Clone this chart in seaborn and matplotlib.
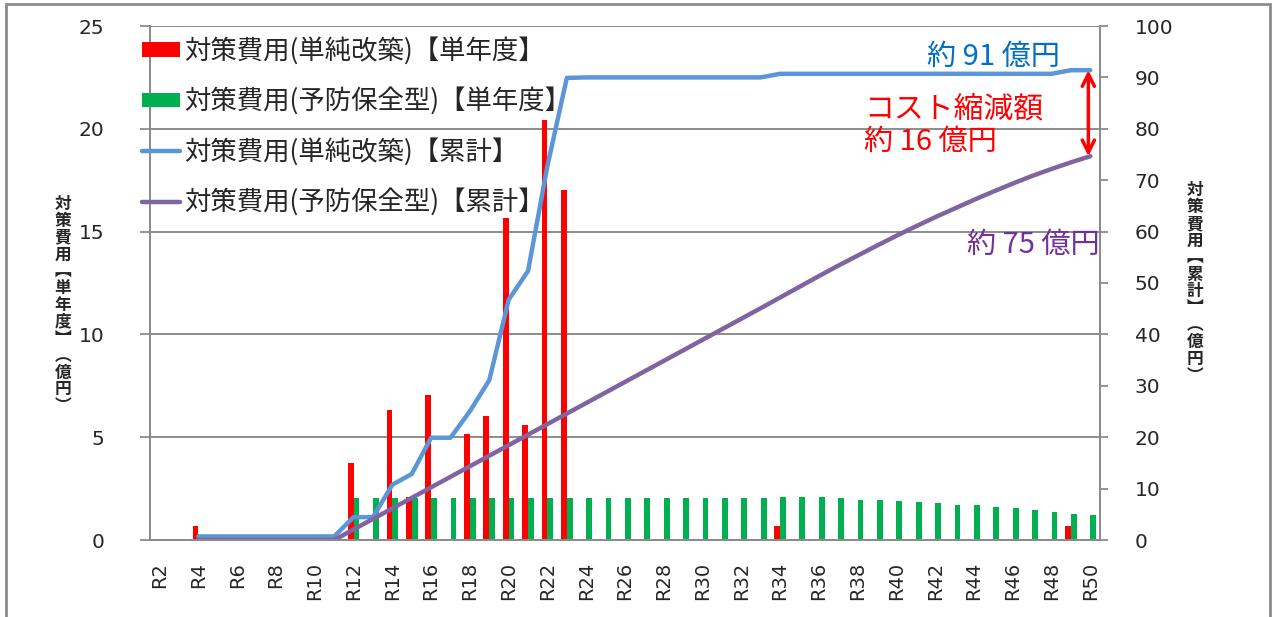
import numpy as np
import pandas as pd
import matplotlib
matplotlib.use('Agg')
import matplotlib.pyplot as plt
from matplotlib.patches import Rectangle
import seaborn as sns

sns.set_style('white')
plt.rcParams['font.family'] = ['DejaVu Sans', 'Noto Sans CJK JP']
JP = ['Noto Sans CJK JP', 'DejaVu Sans']

# data (億円)
years = ['R%d' % n for n in range(2, 51)]

# single-year cost, simple renewal (red bars)
red_single = [0, 0, 0.7, 0, 0, 0, 0, 0, 0, 0,
              3.75, 0, 6.3, 2.1, 7.05, 0, 5.15, 6.05, 15.65, 5.6,
              20.45, 17.0, 0, 0, 0, 0, 0, 0, 0, 0,
              0, 0, 0.7, 0, 0, 0, 0, 0, 0, 0,
              0, 0, 0, 0, 0, 0, 0, 0.7, 0]

# single-year cost, preventive maintenance (green bars)
green_single = [0, 0, 0, 0, 0, 0, 0, 0, 0, 0,
                2.05, 2.05, 2.05, 2.05, 2.05, 2.05, 2.05, 2.05, 2.05, 2.05,
                2.05, 2.05, 2.05, 2.05, 2.05, 2.05, 2.05, 2.05, 2.05, 2.05,
                2.05, 2.05, 2.08, 2.08, 2.08, 2.04, 1.95, 1.95, 1.91, 1.83,
                1.78, 1.69, 1.69, 1.61, 1.56, 1.48, 1.36, 1.28, 1.20]

# cumulative, simple renewal (blue line)
blue_cum = [np.nan, np.nan, 0.7, 0.7, 0.7, 0.7, 0.7, 0.7, 0.7, 0.7,
            4.45, 4.45, 10.75, 12.85, 19.9, 19.9, 25.05, 31.1, 46.75, 52.35,
            72.8, 89.9, 90.0, 90.0, 90.0, 90.0, 90.0, 90.0, 90.0, 90.0,
            90.0, 90.0, 90.7, 90.7, 90.7, 90.7, 90.7, 90.7, 90.7, 90.7,
            90.7, 90.7, 90.7, 90.7, 90.7, 90.7, 90.7, 91.4, 91.4]

# cumulative, preventive maintenance (purple line)
purple_cum = [np.nan, np.nan, 0, 0, 0, 0, 0, 0, 0, 0,
              2.05, 4.10, 6.15, 8.20, 10.25, 12.30, 14.35, 16.40, 18.45, 20.50,
              22.55, 24.60, 26.65, 28.70, 30.75, 32.80, 34.85, 36.90, 38.95, 41.00,
              43.05, 45.10, 47.18, 49.26, 51.34, 53.38, 55.33, 57.28, 59.19, 61.02,
              62.80, 64.49, 66.18, 67.79, 69.35, 70.83, 72.19, 73.47, 74.67]

lab_red = '対策費用(単純改築)【単年度】'
lab_green = '対策費用(予防保全型)【単年度】'
lab_blue = '対策費用(単純改築)【累計】'
lab_purple = '対策費用(予防保全型)【累計】'

RED = '#FF0000'
GREEN = '#00B050'
BLUE = '#5A96D8'
PURPLE = '#8064A2'
GRAY = '#8C8C8C'

bars = pd.DataFrame({
    'year': years * 2,
    'kind': [lab_red] * len(years) + [lab_green] * len(years),
    'value': red_single + green_single,
})
pos = np.arange(len(years))
lines = pd.DataFrame({'pos': pos, 'blue': blue_cum, 'purple': purple_cum})

fig = plt.figure(figsize=(12.75, 6.17), dpi=100)
ax = fig.add_axes([150 / 1275, 77 / 617, 950 / 1275, 514 / 617])

sns.barplot(data=bars, x='year', y='value', hue='kind',
            hue_order=[lab_red, lab_green], palette=[RED, GREEN],
            width=0.6, dodge=True, legend=False, saturation=1,
            linewidth=0, ax=ax)

ax2 = ax.twinx()
sns.lineplot(data=lines, x='pos', y='blue', color=BLUE, lw=3.2, ax=ax2)
sns.lineplot(data=lines, x='pos', y='purple', color=PURPLE, lw=3.2, ax=ax2)

ax.set_xlim(-0.5, len(years) - 0.5)
ax.set_ylim(0, 25)
ax2.set_ylim(0, 100)
ax.set_yticks(range(0, 26, 5))
ax2.set_yticks(range(0, 101, 10))
ax.set_xticks(pos[::2])
ax.set_xticklabels(years[::2], rotation=90, fontsize=14)
ax.set_xticks(np.arange(-0.5, len(years), 1), minor=True)
ax.tick_params(axis='x', which='major', length=0, pad=16)
ax.tick_params(axis='x', which='minor', length=8, width=1.3, color=GRAY)
ax.tick_params(axis='y', length=7, width=1.3, color=GRAY, pad=26, labelsize=14.5)
ax2.tick_params(axis='y', length=6, width=1.3, color=GRAY, pad=19, labelsize=14.5)
ax.set_xlabel('')
ax.set_ylabel('')
ax2.set_xlabel('')
ax2.set_ylabel('')
ax.yaxis.grid(True, color=GRAY, lw=1.4)
ax.set_axisbelow(True)
for a in (ax, ax2):
    for s in a.spines.values():
        s.set_color(GRAY)
        s.set_linewidth(1.4)
    a.spines['top'].set_visible(False)

# vertical stacked axis titles
left_title = '対策費用︻単年度︼︵億円︶'
right_title = '対策費用︻累計︼︵億円︶'
fig.text(63 / 1275, 1 - 305 / 617, '\n'.join(left_title), family=JP,
         fontsize=12, fontweight='bold', ha='center', va='center', linespacing=0.92)
fig.text(1195 / 1275, 1 - 283 / 617, '\n'.join(right_title), family=JP,
         fontsize=12, fontweight='bold', ha='center', va='center', linespacing=0.92)

# legend
handles = [ax.containers[0], ax.containers[1], ax2.lines[0], ax2.lines[1]]
fig.legend(handles, [lab_red, lab_green, lab_blue, lab_purple],
           loc='upper left', bbox_to_anchor=(142 / 1275, 1 - 37 / 617),
           frameon=False, borderaxespad=0, borderpad=0,
           prop={'family': JP, 'size': 19}, handlelength=1.45,
           handleheight=0.45, handletextpad=0.15, labelspacing=0.85)

# annotations
fig.text(1060 / 1275, 1 - 57 / 617, '約 91 億円', family=JP, fontsize=21,
         color='#0070C0', ha='right', va='center')
fig.text(864 / 1275, 1 - 110 / 617, 'コスト縮減額', family=JP, fontsize=21.5,
         color=RED, ha='left', va='center')
fig.text(864 / 1275, 1 - 142 / 617, '約 16 億円', family=JP, fontsize=21,
         color=RED, ha='left', va='center')
fig.text(1100 / 1275, 1 - 245 / 617, '約 75 億円', family=JP, fontsize=21,
         color='#7030A0', ha='right', va='center')
ax2.annotate('', xy=(pos[-1] - 0.1, purple_cum[-1]), xytext=(pos[-1] - 0.1, blue_cum[-1]),
             arrowprops=dict(arrowstyle='<->', color=RED, lw=2.5,
                             mutation_scale=22, shrinkA=0, shrinkB=0))

# outer frame of the original picture
fig.patches.append(Rectangle((6 / 1275, -0.1), 1264 / 1275, 1.1 - 4 / 617,
                             transform=fig.transFigure, fill=False,
                             edgecolor=GRAY, lw=2))

fig.savefig('out.png', dpi=100)
